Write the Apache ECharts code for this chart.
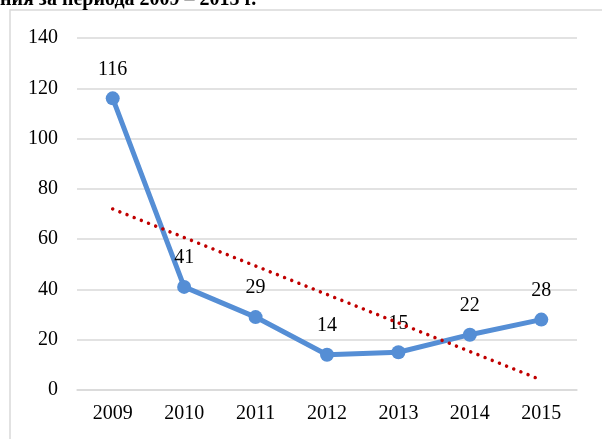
<!DOCTYPE html>
<html>
<head>
<meta charset="utf-8">
<script src="https://cdn.jsdelivr.net/npm/echarts@6/dist/echarts.min.js"></script>
<style>
  html, body { margin: 0; padding: 0; background: #fff; }
  #container { width: 602px; height: 439px; }
</style>
</head>
<body>
<div id="container"></div>
<script>
    // години и стойности
    var years = ['2009', '2010', '2011', '2012', '2013', '2014', '2015'];
    var values = [116, 41, 29, 14, 15, 22, 28];
    // линейна тенденция - крайни точки, отчетени от графиката
    var trendEnds = [72, null, null, null, null, null, 4];
    var yTicks = { min: 0, max: 140, interval: 20 };

    var serif = '"Liberation Serif", "DejaVu Serif", serif';
    var myChart = echarts.init(document.getElementById('container'));

    var option = {
        backgroundColor: '#fff',
        animation: false,
        graphic: [
            {
                type: 'text',
                left: 0,
                top: -10,
                style: {
                    text: 'ния за периода 2009 – 2015 г.',
                    font: 'bold 20px ' + serif,
                    fill: '#000'
                }
            },
            {
                type: 'rect',
                shape: { x: 10, y: 10, width: 620, height: 460 },
                style: { fill: null, stroke: '#d9d9d9', lineWidth: 1.5 },
                z: -1
            }
        ],
        grid: { left: 77, right: 25, top: 38, bottom: 49 },
        xAxis: {
            type: 'category',
            data: years,
            boundaryGap: true,
            axisLine: { show: true, lineStyle: { color: '#d9d9d9', width: 1.5 } },
            axisTick: { show: false },
            axisLabel: { color: '#000', fontFamily: serif, fontSize: 20, margin: 14 }
        },
        yAxis: {
            type: 'value',
            min: yTicks.min,
            max: yTicks.max,
            interval: yTicks.interval,
            axisLine: { show: false },
            axisTick: { show: false },
            axisLabel: { color: '#000', fontFamily: serif, fontSize: 20, margin: 19 },
            splitLine: { lineStyle: { color: '#d9d9d9', width: 1.5 } }
        },
        series: [
            {
                type: 'line',
                data: values,
                symbol: 'circle',
                symbolSize: 14,
                lineStyle: { color: '#558ed5', width: 5 },
                itemStyle: { color: '#558ed5' },
                label: {
                    show: true,
                    position: 'top',
                    distance: 12,
                    color: '#000',
                    fontFamily: serif,
                    fontSize: 20
                },
                z: 3
            },
            {
                type: 'line',
                data: trendEnds,
                connectNulls: true,
                symbol: 'none',
                lineStyle: { color: '#c00000', width: 3.5, type: [0.01, 7.7], cap: 'round' },
                z: 4
            }
        ]
    };
    myChart.setOption(option);
</script>
</body>
</html>
